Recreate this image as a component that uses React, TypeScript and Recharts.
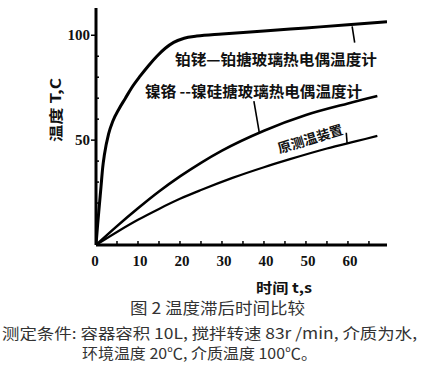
import React from 'react';
import { LineChart, Line, XAxis, YAxis, ReferenceLine } from 'recharts';

// Curve 1: 铂铑—铂搪玻璃热电偶温度计 (time s, temperature °C)
const ptTime = [0, 0.4, 0.8, 1.2, 1.6, 2, 3, 4, 5.5, 7, 8.5, 10.5, 12.5, 14.5, 16.5, 18.5, 21, 24, 30, 40, 50, 60, 69.3];
const ptTemp = [0, 10, 19, 28, 37, 43, 53, 59, 65, 70, 75, 80.5, 85.5, 90, 93.8, 96.6, 98.6, 99.6, 100.6, 102, 103.5, 105, 106.5];

// Curve 2: 镍铬—镍硅搪玻璃热电偶温度计
const niTime = [0, 5, 10, 15, 20, 25, 30, 40, 50, 60, 67];
const niTemp = [0, 9, 17.5, 25.5, 32.7, 39.2, 45, 54.5, 62, 67.5, 71];

// Curve 3: 原测温装置
const orTime = [0, 5, 10, 15, 20, 25, 32.5, 40, 46, 55, 62, 67];
const orTemp = [0, 6.2, 12, 17.2, 22, 26.2, 32, 37.1, 40.8, 46, 49.5, 52];

const xTicks = [0, 5, 10, 15, 20, 25, 30, 35, 40, 45, 50, 55, 60, 65];
const xLabelTicks = [0, 10, 20, 30, 40, 50, 60];
const yTicks = [10, 20, 30, 40, 50, 60, 70, 80, 90, 100];
const yLabelTicks = [50, 100];

const ptData = ptTime.map((t, i) => ({ t, v: ptTemp[i] }));
const niData = niTime.map((t, i) => ({ t, v: niTemp[i] }));
const orData = orTime.map((t, i) => ({ t, v: orTemp[i] }));

const numFont = '"Liberation Serif", "DejaVu Serif", serif';
const cjkFont = '"Noto Sans CJK SC", "Noto Sans", sans-serif';

const XTick = (props: any) => {
  const { x, y, payload } = props;
  const v = payload.value;
  return (
    <g>
      {v !== 0 && <line x1={x} x2={x} y1={y - 1} y2={y - 4} stroke="#000" strokeWidth={1.5} />}
      {xLabelTicks.includes(v) && (
        <text x={v === 0 ? x - 1 : x + 2} y={y + 21} textAnchor="middle" fontFamily={numFont} fontWeight="bold" fontSize={15} fill="#111">
          {v}
        </text>
      )}
    </g>
  );
};

const YTick = (props: any) => {
  const { x, y, payload } = props;
  const v = payload.value;
  const major = yLabelTicks.includes(v);
  return (
    <g>
      {major ? (
        <line x1={x - 5} x2={x} y1={y} y2={y} stroke="#000" strokeWidth={1.5} />
      ) : (
        <line x1={x} x2={x + 3} y1={y} y2={y} stroke="#000" strokeWidth={1.5} />
      )}
      {major && (
        <text x={x - 6} y={y + 5} textAnchor="end" fontFamily={numFont} fontWeight="bold" fontSize={15} fill="#111">
          {v}
        </text>
      )}
    </g>
  );
};

export default function App() {
  return (
    <div style={{ position: 'absolute', left: 0, top: 0, width: 443, height: 365, background: '#fff' }}>
      <LineChart width={443} height={365} margin={{ top: 8, left: 95, right: 56, bottom: 119 }}>
        <XAxis
          xAxisId="x"
          type="number"
          dataKey="t"
          domain={[0, 69.3]}
          ticks={xTicks}
          interval={0}
          height={1}
          tickSize={0}
          tickMargin={0}
          tickLine={false}
          axisLine={{ stroke: '#000', strokeWidth: 3 }}
          tick={(p: any) => <XTick {...p} />}
          allowDataOverflow
        />
        <YAxis
          yAxisId="y"
          type="number"
          dataKey="v"
          domain={[0, 113]}
          ticks={yTicks}
          interval={0}
          width={1}
          tickSize={0}
          tickMargin={0}
          tickLine={false}
          axisLine={{ stroke: '#000', strokeWidth: 3 }}
          tick={(p: any) => <YTick {...p} />}
          allowDataOverflow
        />
        <Line xAxisId="x" yAxisId="y" data={ptData} dataKey="v" type="monotone" stroke="#000" strokeWidth={3} dot={false} isAnimationActive={false} />
        <Line xAxisId="x" yAxisId="y" data={niData} dataKey="v" type="monotone" stroke="#000" strokeWidth={2.6} dot={false} isAnimationActive={false} />
        <Line xAxisId="x" yAxisId="y" data={orData} dataKey="v" type="monotone" stroke="#000" strokeWidth={2.2} dot={false} isAnimationActive={false} />
        <ReferenceLine xAxisId="x" yAxisId="y" segment={[{ x: 61, y: 104.2 }, { x: 61.6, y: 96.5 }]} stroke="#000" strokeWidth={1.6} />
        <ReferenceLine xAxisId="x" yAxisId="y" segment={[{ x: 37.6, y: 68.6 }, { x: 38.9, y: 53.5 }]} stroke="#000" strokeWidth={1.6} />
        <ReferenceLine xAxisId="x" yAxisId="y" segment={[{ x: 59.6, y: 53.5 }, { x: 59.8, y: 48.5 }]} stroke="#000" strokeWidth={1.6} />
      </LineChart>
      <svg width={443} height={365} style={{ position: 'absolute', left: 0, top: 0, pointerEvents: 'none' }}>
        <text x={175} y={58} dominantBaseline="central" fontFamily={cjkFont} fontWeight="bold" fontSize={15} fill="#111" textLength={202} lengthAdjust="spacingAndGlyphs">
          铂铑—铂搪玻璃热电偶温度计
        </text>
        <text x={145} y={90} dominantBaseline="central" fontFamily={cjkFont} fontWeight="bold" fontSize={15} fill="#111" textLength={217} lengthAdjust="spacingAndGlyphs">
          镍铬 --镍硅搪玻璃热电偶温度计
        </text>
        <text x={310} y={138} textAnchor="middle" dominantBaseline="central" transform="rotate(-17 310 138)" fontFamily={cjkFont} fontWeight="bold" fontSize={13.5} fill="#111">
          原测温装置
        </text>
        <text x={55} y={110} textAnchor="middle" dominantBaseline="central" transform="rotate(-90 55 110)" fontFamily={cjkFont} fontWeight="bold" fontSize={14} fill="#111" textLength={64} lengthAdjust="spacingAndGlyphs">
          温度 T,C
        </text>
        <text x={256} y={287} dominantBaseline="central" fontFamily={cjkFont} fontWeight="bold" fontSize={14} fill="#111" textLength={56} lengthAdjust="spacingAndGlyphs">
          时间 t,s
        </text>
        <text x={130} y={307} dominantBaseline="central" fontFamily={cjkFont} fontSize={16} fill="#333" textLength={175} lengthAdjust="spacingAndGlyphs">
          图 2  温度滞后时间比较
        </text>
        <text x={2} y={332} dominantBaseline="central" fontFamily={cjkFont} fontSize={15} fill="#333" textLength={415} lengthAdjust="spacingAndGlyphs">
          测定条件:  容器容积 10L, 搅拌转速 83r /min, 介质为水,
        </text>
        <text x={82} y={352} dominantBaseline="central" fontFamily={cjkFont} fontSize={15} fill="#333" textLength={235} lengthAdjust="spacingAndGlyphs">
          环境温度 20℃, 介质温度 100℃。
        </text>
      </svg>
    </div>
  );
}
